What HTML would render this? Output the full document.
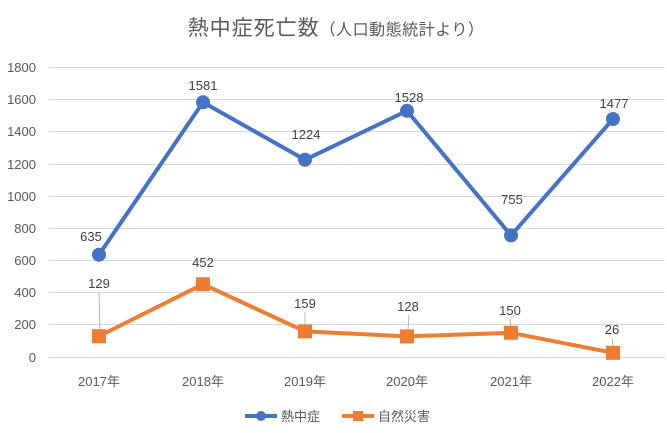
<!DOCTYPE html><html><head><meta charset="utf-8"><style>body{margin:0;background:#fff}svg{display:block}text{font-family:"Liberation Sans","Noto Sans CJK JP",sans-serif}</style></head><body>
<svg width="667" height="433" viewBox="0 0 667 433">
<rect width="667" height="433" fill="#fff"/>
<text x="336" y="35" text-anchor="middle" font-size="21" fill="#595959" letter-spacing="1">熱中症死亡数<tspan font-size="16" letter-spacing="0.5">（人口動態統計より）</tspan></text>
<g stroke="#d9d9d9" stroke-width="1">
<line x1="49" x2="665" y1="67.5" y2="67.5"/><line x1="49" x2="665" y1="99.5" y2="99.5"/><line x1="49" x2="665" y1="131.5" y2="131.5"/><line x1="49" x2="665" y1="164.5" y2="164.5"/><line x1="49" x2="665" y1="196.5" y2="196.5"/><line x1="49" x2="665" y1="228.5" y2="228.5"/><line x1="49" x2="665" y1="260.5" y2="260.5"/><line x1="49" x2="665" y1="292.5" y2="292.5"/><line x1="49" x2="665" y1="324.5" y2="324.5"/><line x1="49" x2="665" y1="357.5" y2="357.5"/>
</g>
<g font-size="13" fill="#595959" text-anchor="end">
<text x="36" y="72">1800</text><text x="36" y="104">1600</text><text x="36" y="136">1400</text><text x="36" y="169">1200</text><text x="36" y="201">1000</text><text x="36" y="233">800</text><text x="36" y="265">600</text><text x="36" y="297">400</text><text x="36" y="329">200</text><text x="36" y="362">0</text>
</g>
<g font-size="13" fill="#595959" text-anchor="middle">
<text x="99" y="386">2017年</text><text x="203" y="386">2018年</text><text x="305" y="386">2019年</text><text x="407" y="386">2020年</text><text x="511" y="386">2021年</text><text x="613" y="386">2022年</text>
</g>
<g stroke="#a6a6a6" stroke-width="0.8">
<line x1="99" y1="292" x2="100" y2="330"/><line x1="305" y1="312" x2="305" y2="325"/><line x1="409" y1="315" x2="408" y2="330"/><line x1="510" y1="319" x2="511" y2="327"/><line x1="612" y1="338" x2="613" y2="346"/>
</g>
<polyline points="99,254.7 203,102.3 305,159.8 407,110.8 511,235.4 613,119" fill="none" stroke="#4472c4" stroke-width="4" stroke-linejoin="round"/>
<g fill="#4472c4"><circle cx="99" cy="254.7" r="7"/><circle cx="203" cy="102.3" r="7"/><circle cx="305" cy="159.8" r="7"/><circle cx="407" cy="110.8" r="7"/><circle cx="511" cy="235.4" r="7"/><circle cx="613" cy="119" r="7"/></g>
<polyline points="99,336.2 203,284.2 305,331.4 407,336.4 511,332.8 613,352.8" fill="none" stroke="#ed7d31" stroke-width="4" stroke-linejoin="round"/>
<g fill="#ed7d31"><rect x="92" y="329.2" width="14" height="14"/><rect x="196" y="277.2" width="14" height="14"/><rect x="298" y="324.4" width="14" height="14"/><rect x="400" y="329.4" width="14" height="14"/><rect x="504" y="325.8" width="14" height="14"/><rect x="606" y="345.8" width="14" height="14"/></g>
<g font-size="13" fill="#404040" text-anchor="middle">
<text x="91" y="241">635</text><text x="203" y="90">1581</text><text x="306" y="139">1224</text><text x="409" y="102">1528</text><text x="512" y="204">755</text><text x="614" y="108">1477</text>
<text x="99" y="288">129</text><text x="203" y="267">452</text><text x="305" y="308">159</text><text x="408" y="311">128</text><text x="510" y="315">150</text><text x="612" y="334">26</text>
</g>
<line x1="245" y1="416" x2="277" y2="416" stroke="#4472c4" stroke-width="4"/><circle cx="261" cy="416" r="5" fill="#4472c4"/>
<text x="281" y="421" font-size="13" fill="#595959">熱中症</text>
<line x1="342" y1="416" x2="374" y2="416" stroke="#ed7d31" stroke-width="4"/><rect x="353" y="411" width="10" height="10" fill="#ed7d31"/>
<text x="378" y="421" font-size="13" fill="#595959">自然災害</text>
</svg></body></html>
